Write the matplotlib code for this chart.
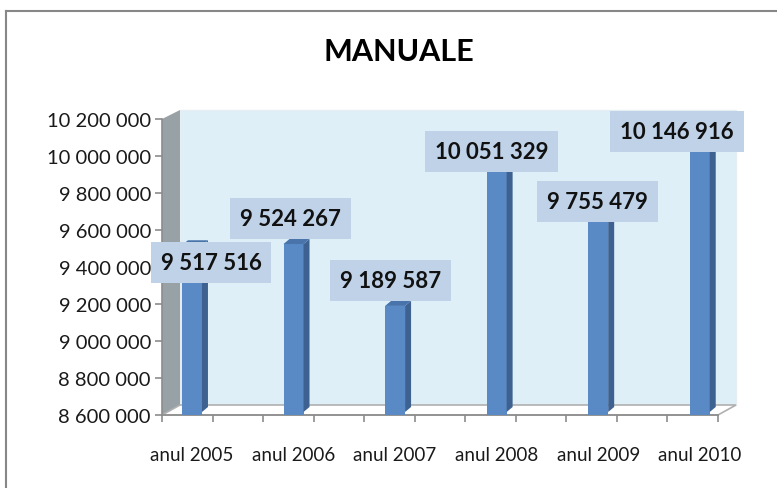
import matplotlib
matplotlib.use("Agg")
import matplotlib.pyplot as plt
import numpy as np
from matplotlib.patches import Polygon
from matplotlib.transforms import IdentityTransform
from matplotlib.lines import Line2D
import matplotlib.ticker as mticker

# ---- data ----
categories = ["anul 2005", "anul 2006", "anul 2007", "anul 2008", "anul 2009", "anul 2010"]
values = [9517516, 9524267, 9189587, 10051329, 9755479, 10146916]
y_ticks = [8600000, 8800000, 9000000, 9200000, 9400000, 9600000, 9800000, 10000000, 10200000]
title = "MANUALE"

# ---- style ----
FONT = ["Lato", "DejaVu Sans"]
plt.rcParams['font.family'] = FONT
W, H = 777, 489
fig = plt.figure(figsize=(W / 100, H / 100), dpi=100)
fig.patch.set_facecolor("white")

# axes = front plane of the 3D box
x0p, x1p, ytop, ybot = 162, 718, 120, 416
ax = fig.add_axes([x0p / W, (H - ybot) / H, (x1p - x0p) / W, (ybot - ytop) / H])
ax.set_facecolor("none")
ax.set_xlim(-0.295, 5.18)
ax.set_ylim(y_ticks[0], y_ticks[-1])

gray = "#8c8c8c"
for s in ["top", "right"]:
    ax.spines[s].set_visible(False)
for s in ["left", "bottom"]:
    ax.spines[s].set_color(gray)
    ax.spines[s].set_linewidth(1.2)

ax.set_yticks(y_ticks)
ax.yaxis.set_major_formatter(mticker.FuncFormatter(lambda v, p: f"{int(v):,}".replace(",", " ")))
ax.tick_params(axis="y", length=5, width=1.2, color=gray, labelsize=14.5, labelcolor="#1a1a1a", pad=3)

x = np.arange(len(categories))
ax.set_xticks(x)
ax.set_xticklabels(categories)
ax.tick_params(axis="x", which="major", length=0, labelsize=13.5, labelcolor="#1a1a1a", pad=22)
ax.set_xticks(np.arange(-0.295, 5.2, 0.4975), minor=True)
ax.tick_params(axis="x", which="minor", length=5, width=1.2, color=gray)

# depth offsets (pixels)
dx, dy = 18, 10

def disp(px, py):
    return ax.transData.transform((px, py))

xl, xr = ax.get_xlim()
yb, yt = ax.get_ylim()
BL, BR, TL = disp(xl, yb), disp(xr, yb), disp(xl, yt)
TR = disp(xr, yt)

idt = IdentityTransform()
# back wall
wall = Polygon([(BL[0] + dx, BL[1] + dy), (BR[0] + dx, BR[1] + dy),
                (TR[0] + dx, TR[1] + dy - 1), (TL[0] + dx, TL[1] + dy - 1)],
               closed=True, transform=idt, facecolor="#deeff7", edgecolor="#e6eef2",
               lw=1, zorder=0, clip_on=False)
ax.add_patch(wall)
# left side wall
side = Polygon([BL, (BL[0] + dx, BL[1] + dy), (TL[0] + dx, TL[1] + dy - 1), TL],
               closed=True, transform=idt, facecolor="#98a2a6", edgecolor="none",
               zorder=0.5, clip_on=False)
ax.add_patch(side)
# floor
floor = Polygon([BL, BR, (BR[0] + dx, BR[1] + dy), (BL[0] + dx, BL[1] + dy)],
                closed=True, transform=idt, facecolor="white", edgecolor="#b0b0b0",
                lw=1.2, zorder=0.6, clip_on=False)
ax.add_patch(floor)

# bars
bw = 0.197
bars = ax.bar(x, np.array(values) - y_ticks[0], bottom=y_ticks[0], width=bw,
              color="#5a8ac6", zorder=3)
fig.canvas.draw()
sd, sh = 6, 5
for b in bars:
    bb = b.get_window_extent()
    side_f = Polygon([(bb.x1, bb.y0 + 3), (bb.x1, bb.y1), (bb.x1 + sd, bb.y1 + sh), (bb.x1 + sd, bb.y0 + 3 + sh)],
                     closed=True, transform=idt, facecolor="#3d6291", edgecolor="none", zorder=3)
    cap = Polygon([(bb.x0, bb.y1), (bb.x1, bb.y1), (bb.x1 + sd, bb.y1 + sh), (bb.x0 + sd, bb.y1 + sh)],
                  closed=True, transform=idt, facecolor="#4874ab", edgecolor="none", zorder=3)
    ax.add_patch(side_f)
    ax.add_patch(cap)

# data labels
label_offsets = [(19, -17), (-3, 26), (-5, 25), (-5, -5), (-1, 0), (-23, -3)]
for xi, v, (ox, oy) in zip(x, values, label_offsets):
    ax.annotate(f"{v:,}".replace(",", " "), xy=(xi, v), xytext=(ox, oy),
                textcoords="offset pixels", ha="center", va="center",
                fontsize=16, fontweight="bold", color="#111111", zorder=5,
                annotation_clip=False,
                bbox=dict(boxstyle="square,pad=0.45", facecolor="#bfd2e8", edgecolor="none"))

# title
fig.text(399 / W, 1 - 52 / H, title, ha="center", va="center", fontsize=22,
         fontweight="bold", color="black")

# outer chart frame (partially visible)
fig.add_artist(Line2D([6 / W, 6 / W], [0, 1 - 12 / H], transform=fig.transFigure, color="#878787", lw=1.5))
fig.add_artist(Line2D([6 / W, 1], [1 - 12 / H, 1 - 12 / H], transform=fig.transFigure, color="#878787", lw=1.5))

fig.savefig("out.png", dpi=100)
